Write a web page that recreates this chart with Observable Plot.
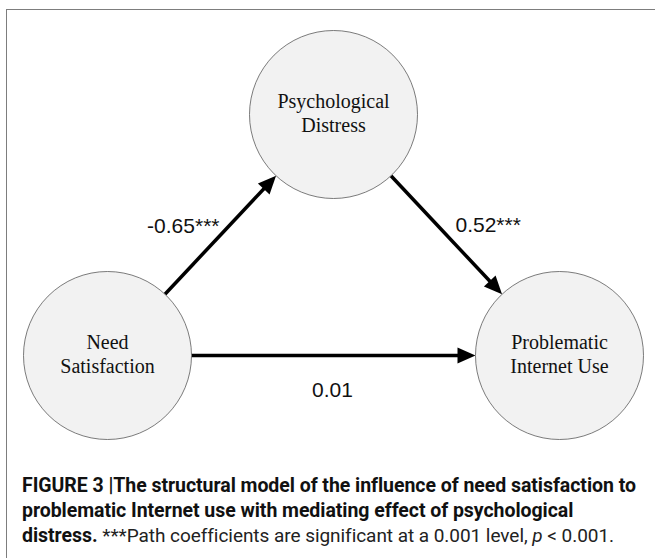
<!DOCTYPE html>
<html>
<head>
<meta charset="utf-8">
<script src="https://cdn.jsdelivr.net/npm/d3@7"></script>
<script src="https://cdn.jsdelivr.net/npm/@observablehq/plot@0.6"></script>
<style>
  html, body { margin: 0; padding: 0; background: #fff; }
  body { width: 655px; height: 558px; overflow: hidden; position: relative; }
  #frame { position: absolute; left: 6px; top: 9px; width: 700px; height: 600px;
           border-left: 1.5px solid #7d7d7d; border-top: 1.5px solid #7d7d7d; }
  #chart { position: absolute; left: 0; top: 0; }
  #caption { position: absolute; left: 22px; top: 473px; width: 640px;
             font-family: Roboto, "Liberation Sans", sans-serif; font-size: 19.5px;
             line-height: 25px; color: #111; white-space: nowrap; letter-spacing: -0.05px; }
  #caption b { font-weight: 700; }
  #caption .n { font-weight: 400; color: #222; font-size: 19px; }
</style>
</head>
<body>
<div id="frame"></div>
<div id="chart"></div>
<div id="caption">
  <b>FIGURE 3 |The structural model of the influence of need satisfaction to</b><br>
  <b>problematic Internet use with mediating effect of psychological</b><br>
  <b>distress.</b> <span class="n">***Path coefficients are significant at a 0.001 level, <i>p</i> &lt; 0.001.</span>
</div>
<script>
// ---- data ----
const nodeNames = ["Need\nSatisfaction", "Psychological\nDistress", "Problematic\nInternet Use"];
const pathFrom = [0, 1, 0];
const pathTo = [1, 2, 2];
const pathCoef = ["-0.65***", "0.52***", "0.01"];

// ---- layout (diagram coordinates, pixels) ----
const nodeX = [107, 333, 559];
const nodeY = [355, 114, 355];
const R = 84;
const headLen = 18, headHalf = 8;
const coefX = [219, 455, 332];
const coefY = [232, 231, 396];
const coefAnchor = ["end", "start", "middle"];

const W = 655, H = 455;

const nodes = nodeNames.map((name, i) => ({name, x: nodeX[i], y: nodeY[i]}));
const edges = pathFrom.map((f, i) => {
  const a = nodes[f], b = nodes[pathTo[i]];
  const dx = b.x - a.x, dy = b.y - a.y, L = Math.hypot(dx, dy);
  const ux = dx / L, uy = dy / L;
  const tipX = b.x - ux * R, tipY = b.y - uy * R;
  return {
    coef: pathCoef[i],
    x1: a.x + ux * R, y1: a.y + uy * R,
    x2: tipX - ux * (headLen - 2), y2: tipY - uy * (headLen - 2),
    tipX, tipY,
    angle: Math.atan2(dy, dx) * 180 / Math.PI,
    lx: coefX[i], ly: coefY[i], anchor: coefAnchor[i]
  };
});

const headSymbol = {
  draw(context) {
    context.moveTo(0, 0);
    context.lineTo(-headLen, -headHalf);
    context.lineTo(-headLen, headHalf);
    context.closePath();
  }
};

const chart = Plot.plot({
  width: W, height: H,
  margin: 0,
  x: {domain: [0, W], range: [0, W], axis: null},
  y: {domain: [0, H], range: [0, H], axis: null},
  marks: [
    Plot.link(edges, {x1: "x1", y1: "y1", x2: "x2", y2: "y2", stroke: "black", strokeWidth: 3.5}),
    Plot.dot(edges, {x: "tipX", y: "tipY", rotate: "angle", symbol: headSymbol, r: 10, fill: "black", stroke: "none"}),
    Plot.dot(nodes, {x: "x", y: "y", r: R, fill: "#f2f2f2", stroke: "#5a5a5a", strokeWidth: 0.8}),
    Plot.text(nodes, {x: "x", y: "y", text: "name", dy: -2, lineAnchor: "middle", lineHeight: 1.2,
      fontFamily: "Liberation Serif, Times New Roman, serif", fontSize: 20, fill: "#111"}),
    ...coefAnchor.map((anc, i) => Plot.text([edges[i]], {x: "lx", y: "ly", text: "coef", textAnchor: anc,
      lineAnchor: "bottom", fontFamily: "Liberation Sans, Arial, sans-serif", fontSize: 21, fill: "#111"}))
  ]
});
document.getElementById("chart").appendChild(chart);
</script>
</body>
</html>
